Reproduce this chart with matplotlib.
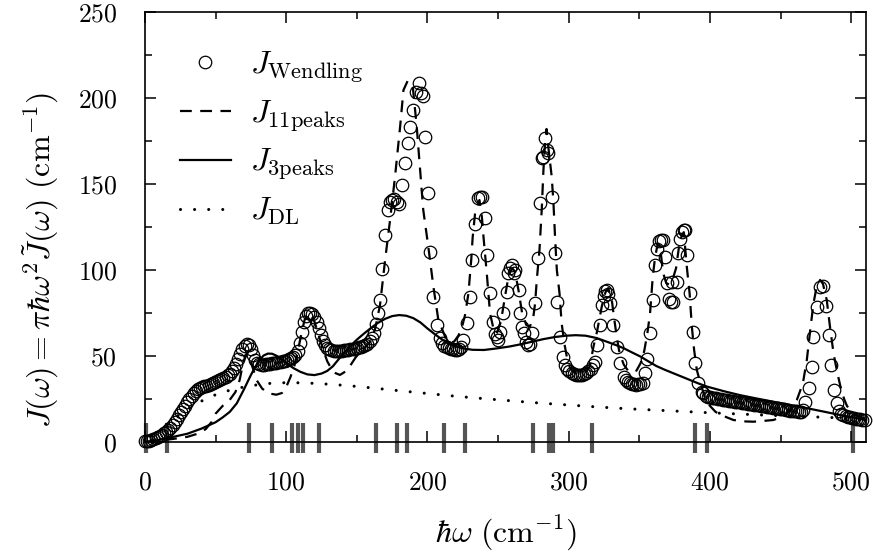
import matplotlib
matplotlib.use("Agg")
import matplotlib.pyplot as plt
from matplotlib.lines import Line2D

plt.rcParams['font.family'] = 'serif'
plt.rcParams['font.serif'] = ['cmr10']
plt.rcParams['mathtext.fontset'] = 'cm'
plt.rcParams['axes.formatter.use_mathtext'] = True

# ---------------- data ----------------
wend_x = [0, 1.5, 3, 4.5, 6, 7.5, 9, 10.5, 12, 13.5, 15, 16.5, 18, 19.5, 21, 22.5, 24, 25.5, 27, 28.5,
          30, 31.5, 33, 34.5, 36, 37.5, 39, 40.5, 42, 43.5, 45, 46.5, 48, 49.5, 51, 52.5, 54, 55.5, 57, 58.5,
          60, 61.5, 63, 64.5, 66, 67.5, 69, 70.5, 72, 73.5, 75, 76.5, 78, 79.5, 81, 82.5, 84, 85.5, 87, 88.5,
          90, 91.5, 93, 94.5, 96, 97.5, 99, 100.5, 102, 103.5, 105, 106.5, 108, 109.5, 111, 112.5, 114, 115.5, 117, 118.5,
          120, 121.5, 123, 124.5, 126, 127.5, 129, 130.5, 132, 133.5, 135, 136.5, 138, 139.5, 141, 142.5, 144, 145.5, 147, 148.5,
          150, 151.5, 153, 154.5, 156, 157.5, 159, 160.5, 162, 163.5, 165, 166.4, 167.6, 170, 172.3, 173.5, 174.7, 176.5, 178.2, 180,
          181.8, 184.1, 186.5, 187.7, 190, 192, 194.3, 195.5, 196.5, 198.3, 200.6, 201.8, 204.2, 206.6, 209, 210.5, 212, 213.5, 215, 216.5,
          218, 219.5, 221, 222.5, 224, 225.4, 227.8, 230.2, 231.4, 233.7, 236, 237.2, 238.5, 240.8, 242, 244.3, 246.7, 247.8, 249, 250.2,
          251.4, 253.7, 256.1, 257.3, 258.5, 259.7, 261, 262.1, 264.5, 265.7, 267, 268, 269.5, 271.5, 272.5, 273.9, 276.3, 278.1, 279.7, 281,
          282.1, 283.5, 284.6, 285.6, 288, 290.4, 291.6, 293.9, 296.3, 297.5, 299, 300.5, 302, 303.5, 305, 306.5, 308, 309.5, 311, 312.5,
          314, 315.5, 317, 318.7, 319.9, 322.2, 323.4, 325, 326, 327, 328, 329.3, 331.7, 334, 336.4, 338.8, 340.3, 341.8, 343.3, 344.8,
          346.3, 347.8, 349.3, 350.8, 352.3, 354, 355.7, 357.6, 360, 361.2, 362.5, 363.8, 365, 366.5, 368, 369.5, 371, 372.5, 373, 374,
          376.5, 377.7, 379, 380.1, 381.3, 382.4, 384.1, 386, 387.9, 389.5, 391.9, 394.2, 395.4, 397, 398.5, 400, 401.5, 403, 404.5, 406,
          407.5, 409, 410.5, 412, 413.5, 415, 416.5, 418, 419.5, 421, 422.5, 424, 425.5, 427, 428.5, 430, 431.5, 433, 434.5, 436,
          437.5, 439, 440.5, 442, 443.5, 445, 446.5, 448, 449.5, 451, 452.5, 454, 455.5, 457, 458.5, 460, 461.5, 463, 464.5, 466,
          467.4, 469.8, 472.1, 473.3, 475.7, 478, 479.9, 482.3, 484, 485.6, 487.5, 489.9, 491.5, 493, 494.5, 496, 497.5, 499, 500.5, 502,
          503.5, 505, 506.5, 508, 509.5]
wend_y = [0.3, 0.5, 0.8, 1.2, 1.7, 2.2, 2.8, 3.4, 4.1, 5.0, 6.0, 7.0, 8.3, 9.7, 11.5, 13.6, 15.5, 17.2, 19.0, 21.2,
          23.0, 25.0, 27.0, 28.7, 29.8, 30.6, 31.2, 31.8, 32.3, 32.8, 33.3, 33.8, 34.3, 34.8, 35.3, 35.8, 36.4, 37.0, 37.8, 38.7,
          39.8, 41.2, 43.0, 45.3, 48.0, 51.0, 53.8, 55.6, 56.8, 56.5, 54.0, 50.5, 47.5, 46.0, 45.3, 45.0, 45.0, 45.2, 45.4, 45.6,
          45.8, 46.0, 46.2, 46.4, 46.6, 46.9, 47.2, 47.6, 48.0, 48.6, 49.3, 50.5, 53.0, 57.5, 64.0, 70.0, 73.5, 74.8, 75.2, 74.5,
          72.8, 70.0, 66.5, 62.5, 59.0, 56.5, 54.8, 53.8, 53.2, 52.9, 52.8, 52.8, 52.9, 53.0, 53.2, 53.4, 53.6, 53.8, 54.0, 54.3,
          54.6, 55.0, 55.4, 55.8, 56.4, 57.2, 58.5, 60.5, 63.5, 68.5, 75.0, 82.6, 100.4, 120.3, 134.9, 139.5, 140.7, 141.2, 139.7, 138.5,
          149.4, 162.0, 173.7, 183.3, 193.0, 203.7, 208.5, 203.0, 201.0, 177.5, 144.6, 110.6, 84.5, 68.0, 60.5, 57.5, 56.0, 55.0, 54.5, 54.0,
          53.8, 53.6, 53.6, 54.0, 55.5, 59.3, 69.0, 84.5, 105.8, 127.0, 141.7, 142.5, 142.6, 130.0, 108.7, 86.4, 70.0, 63.0, 61.2, 59.3,
          64.0, 74.8, 87.4, 98.0, 101.0, 103.0, 98.5, 100.0, 88.4, 74.8, 67.0, 63.2, 58.0, 56.4, 57.0, 63.2, 80.6, 106.8, 138.8, 165.0,
          165.9, 177.0, 170.0, 167.8, 142.6, 109.7, 81.6, 61.2, 49.6, 45.0, 42.5, 41.0, 40.0, 39.5, 39.2, 39.0, 39.0, 39.2, 39.5, 40.0,
          41.0, 42.5, 44.5, 46.7, 56.4, 68.0, 79.7, 85.0, 88.0, 88.4, 86.0, 80.6, 68.0, 55.4, 45.7, 38.0, 36.0, 35.0, 34.2, 33.8,
          33.5, 33.4, 33.5, 33.8, 34.5, 40.0, 48.0, 63.2, 82.6, 103.0, 112.0, 116.8, 117.5, 117.4, 107.7, 92.3, 83.0, 81.6, 93.0, 81.6,
          93.2, 109.7, 118.0, 122.3, 123.0, 123.3, 108.7, 86.5, 64.1, 45.7, 34.5, 29.2, 28.3, 27.0, 26.3, 25.9, 25.7, 25.5, 25.3, 25.1,
          24.9, 24.7, 24.5, 24.3, 24.1, 23.9, 23.7, 23.5, 23.3, 23.1, 22.9, 22.7, 22.5, 22.3, 22.1, 21.9, 21.7, 21.5, 21.3, 21.1,
          20.9, 20.7, 20.5, 20.3, 20.1, 19.9, 19.7, 19.5, 19.3, 19.1, 18.9, 18.7, 18.5, 18.3, 18.1, 17.9, 17.8, 17.7, 17.6, 18.5,
          23.4, 31.2, 43.8, 61.2, 78.7, 90.0, 90.7, 79.0, 62.2, 44.8, 30.2, 22.5, 18.0, 16.2, 15.5, 15.0, 14.6, 14.3, 14.0, 13.7,
          13.5, 13.3, 13.1, 13.0, 12.9]

p11_x = [0, 10, 20, 30, 38, 43, 47, 50, 55, 60, 64, 67, 69, 71, 72.5, 74, 76, 79, 83, 88,
         93, 97, 100, 103, 106, 109, 111, 113, 115.5, 117.5, 120, 123, 126, 129, 132, 135, 138, 141, 145, 149,
         153, 157, 160, 163, 166.4, 170, 173.5, 177, 180.6, 183, 186, 189.6, 192.4, 194.8, 197, 200.6, 204.2, 207.7, 212.5, 216,
         219, 222, 224.5, 226.6, 229, 231, 232, 233.7, 236.8, 238.5, 239.7, 242, 244.3, 246.7, 249, 252, 255, 257.5, 260, 262,
         264.5, 267, 270, 272.5, 275, 276.2, 277.4, 279.3, 280.9, 282.1, 283.3, 284.3, 285.5, 288, 289.2, 290.4, 291.6, 293.5, 295, 297,
         299, 301, 304, 308, 312, 315, 317.5, 320, 323.4, 326, 328, 330.5, 332, 334, 336, 339, 342, 345, 348, 351,
         353.5, 355.7, 357.6, 359.5, 361.2, 363, 364.5, 367, 369, 371, 373, 376, 378, 380, 381.5, 383.6, 385.6, 387.2, 388.8, 390.7,
         393, 396, 400, 404, 408.4, 416.6, 423.7, 430.8, 437, 445, 450, 454.4, 458, 461.5, 464, 466.2, 468.6, 471, 473.3, 475.5,
         478, 480, 482.7, 485, 487.5, 490, 492.2, 495, 497, 500, 504, 508, 511]
p11_y = [0, 0.8, 1.8, 3.0, 5.0, 7.5, 11.5, 16.5, 21.0, 24.5, 29.0, 36.0, 44.0, 50.0, 52.0, 50.0, 44.0, 36.0, 31.0, 28.2,
         27.5, 28.5, 32.0, 37.8, 45.0, 56.0, 64.0, 71.0, 74.5, 74.5, 70.0, 62.0, 54.0, 47.0, 42.5, 40.0, 39.0, 40.5, 44.0, 49.0,
         53.0, 56.0, 59.0, 66.0, 79.6, 105.8, 129.0, 154.0, 183.0, 204.6, 210.0, 206.6, 183.3, 158.0, 135.0, 113.5, 90.3, 71.0, 61.2, 57.5,
         58.5, 62.0, 67.0, 73.8, 86.4, 106.0, 119.0, 133.0, 140.7, 131.0, 119.0, 98.0, 74.8, 66.0, 63.0, 70.0, 85.0, 97.0, 101.0, 99.0,
         88.0, 75.0, 68.0, 67.0, 73.0, 80.6, 94.2, 111.6, 134.9, 158.0, 175.0, 182.0, 172.0, 154.0, 139.0, 118.0, 100.0, 86.4, 69.0, 57.0,
         48.0, 43.0, 40.5, 40.0, 41.0, 44.0, 55.4, 64.0, 78.7, 87.0, 89.4, 82.6, 73.0, 61.2, 51.6, 45.0, 41.5, 40.5, 41.5, 46.0,
         53.0, 63.2, 74.8, 96.0, 107.7, 115.0, 114.0, 98.0, 92.5, 91.5, 93.0, 101.0, 113.0, 120.0, 122.0, 102.0, 86.5, 67.0, 53.5, 41.9,
         35.0, 27.0, 21.0, 17.5, 15.5, 12.8, 12.0, 11.8, 12.2, 12.8, 14.5, 16.7, 20.0, 24.4, 30.0, 36.0, 47.7, 65.0, 80.6, 90.0,
         94.2, 92.0, 82.6, 67.0, 51.6, 41.0, 33.0, 25.0, 21.0, 18.0, 15.5, 14.0, 13.5]

p3_x = [0, 10, 20, 30, 40, 50, 55, 60, 65, 70, 75, 78, 81, 84, 87, 90, 93, 96, 100, 105,
        110, 115, 120, 125, 129, 133, 137, 141, 145, 150, 155, 160, 165, 170, 175, 180, 185, 190, 195, 200,
        205, 210, 215, 220, 226, 232, 240, 249, 258, 266, 274, 282, 290, 298, 305, 312, 320, 327, 333, 339,
        345, 351, 357, 362, 368, 374, 380, 386, 392, 398, 410, 421, 433, 445, 457, 469, 481, 492, 500, 510]
p3_y = [0, 1.2, 3.0, 4.8, 7.8, 11.5, 14.3, 17.5, 22.5, 30.5, 39.0, 43.5, 47.5, 50.3, 51.4, 51.3, 50.2, 48.5, 46.0, 43.0,
        40.8, 39.3, 38.9, 39.8, 41.3, 44.0, 48.0, 52.0, 55.5, 59.5, 63.0, 66.3, 69.3, 71.6, 73.2, 73.8, 73.4, 72.0, 69.5, 66.0,
        62.8, 59.8, 57.3, 55.6, 54.3, 53.6, 53.5, 54.4, 55.5, 56.8, 58.3, 59.8, 61.0, 61.8, 62.1, 61.8, 60.4, 58.3, 56.5, 54.5,
        52.0, 49.6, 46.6, 44.2, 42.0, 40.0, 38.0, 36.0, 34.0, 32.2, 29.5, 27.3, 25.3, 23.4, 21.5, 19.6, 17.6, 15.7, 14.4, 12.8]

dl_x = [0, 5, 10, 15, 20, 25, 30, 35, 40, 50, 60, 70, 80, 90, 100, 110, 120, 130, 140, 150,
        160, 180, 200, 220, 240, 260, 280, 300, 320, 340, 360, 380, 400, 420, 440, 460, 480, 500, 510]
dl_y = [0, 3.5, 6.8, 10.0, 13.3, 16.3, 19.2, 21.6, 23.8, 27.5, 30.1, 32.0, 33.3, 34.2, 34.5, 34.4, 34.1, 33.6, 33.0, 32.3,
        31.5, 29.8, 28.2, 26.6, 25.2, 23.9, 22.6, 21.5, 20.4, 19.4, 18.6, 17.8, 17.0, 16.3, 15.6, 15.0, 14.4, 13.8, 13.5]

mode_freqs = [0.5, 15.4, 73.7, 90.2, 104.3, 108.1, 112.1, 123.2, 163.3, 178.2, 185.3, 211.9, 226.6,
              275.0, 286.3, 289.1, 316.3, 389.5, 397.8, 501.2]

labels = [r'$J_{\mathrm{Wendling}}$', r'$J_{\mathrm{11peaks}}$', r'$J_{\mathrm{3peaks}}$', r'$J_{\mathrm{DL}}$']
xticks = [0, 100, 200, 300, 400, 500]
yticks = [0, 50, 100, 150, 200, 250]

# ---------------- plot ----------------
fig = plt.figure(figsize=(8.73, 5.54), dpi=100)
ax = fig.add_axes([145/873, 112/554, 721/873, 430/554])

TICK_FS = 18.5
LABEL_FS = 23
LEG_FS = 23

ax.vlines(mode_freqs, -6.4, 11, colors='#555555', lw=3, clip_on=False, zorder=1)

ax.plot(dl_x, dl_y, color='black', lw=2.2, linestyle=(0, (0.01, 4.6)), dash_capstyle='round', zorder=2)
ax.plot(p3_x, p3_y, color='black', lw=1.6, zorder=3)
ax.plot(p11_x, p11_y, color='black', lw=1.6, linestyle=(0, (5.3, 3.8)), zorder=3)
ax.plot(wend_x, wend_y, linestyle='none', marker='o', ms=9, mfc='none', mec='black', mew=0.9,
        clip_on=False, zorder=4)

ax.set_xlim(0, 510.5)
ax.set_ylim(0, 250)
ax.set_xticks(xticks)
ax.set_yticks(yticks)
ax.set_xticks(range(50, 510, 100), minor=True)
ax.set_yticks(range(25, 250, 50), minor=True)
ax.tick_params(which='both', direction='in', top=True, right=True, width=1.1, labelsize=TICK_FS)
ax.tick_params(which='major', length=8)
ax.tick_params(which='minor', length=5)
ax.tick_params(axis='y', which='both', pad=20)
ax.tick_params(axis='x', which='both', pad=21)
for s in ax.spines.values():
    s.set_linewidth(1.2)

ax.set_xlabel(r'$\hbar\omega\ (\mathrm{cm}^{-1})$', fontsize=LABEL_FS, labelpad=14)
ax.set_ylabel(r'$J(\omega)=\pi\hbar\omega^2\tilde{J}(\omega)\ (\mathrm{cm}^{-1})$', fontsize=LABEL_FS)
ax.yaxis.set_label_coords(-0.117, 0.423)

handles = [
    Line2D([], [], linestyle='none', marker='o', ms=9, mfc='none', mec='black', mew=0.9),
    Line2D([], [], color='black', lw=1.6, linestyle=(0, (5.3, 3.8))),
    Line2D([], [], color='black', lw=1.6),
    Line2D([], [], color='black', lw=2.2, linestyle=(0, (0.01, 4.6)), dash_capstyle='round'),
]
ax.legend(handles, labels, loc='upper left', bbox_to_anchor=(0.048, 0.912), frameon=False,
          fontsize=LEG_FS, handlelength=1.6, handletextpad=0.6, labelspacing=0.42, borderpad=0,
          borderaxespad=0)

fig.savefig('out.png', dpi=100)
